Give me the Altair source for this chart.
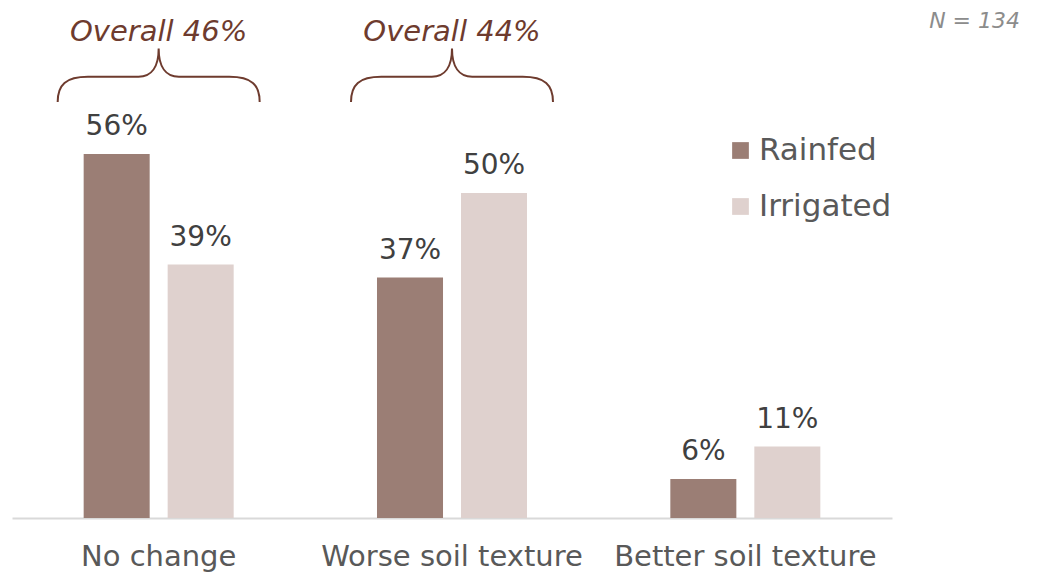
import altair as alt
import pandas as pd

categories = ["No change", "Worse soil texture", "Better soil texture"]
series = ["Rainfed", "Irrigated"]
rainfed = [56, 37, 6]
irrigated = [39, 50, 11]
overall_cats = ["No change", "Worse soil texture"]
overall_vals = [46, 44]
n_label = "N = 134"

FONT = "DejaVu Sans"
rows = []
for i, c in enumerate(categories):
    rows.append({"cat": c, "series": "Rainfed", "value": rainfed[i]})
    rows.append({"cat": c, "series": "Irrigated", "value": irrigated[i]})
df = pd.DataFrame(rows)
df["label"] = df["value"].astype(str) + "%"

ov = pd.DataFrame({"cat": overall_cats, "value": overall_vals})
ov["label"] = "Overall " + ov["value"].astype(str) + "%"
ov["brace_y"] = 68.2
ov["text_y"] = 74.8

xscale = alt.Scale(domain=categories, paddingInner=0.4886, paddingOuter=0.2443)
yscale = alt.Scale(domain=[0, 78], nice=False, zero=True)
x = alt.X("cat:N", scale=xscale, sort=categories,
          axis=alt.Axis(title=None, ticks=False, domainColor="#d9d9d9", domainWidth=2,
                        labelFontSize=29, labelColor="#595959", labelFont=FONT,
                        labelPadding=24, labelAngle=0, labelOverlap=False, labelLimit=0))
xoff = alt.XOffset("series:N", sort=series,
                   scale=alt.Scale(domain=series, paddingInner=0.214, paddingOuter=0))
y = alt.Y("value:Q", scale=yscale, axis=None)

bars = alt.Chart(df).mark_bar().encode(
    x=x, xOffset=xoff, y=y,
    color=alt.Color("series:N", sort=series,
                    scale=alt.Scale(domain=series, range=["#9b7e75", "#dfd1ce"]),
                    legend=alt.Legend(title=None, orient="none", legendX=713, legendY=124,
                                      symbolType="square", symbolSize=280, symbolStrokeWidth=0,
                                      labelFontSize=31, labelFont=FONT, labelColor="#595959",
                                      rowPadding=24, labelOffset=3, padding=0)),
)

labels = alt.Chart(df).mark_text(fontSize=28, font=FONT, color="#404040",
                                 baseline="alphabetic", dy=-19).encode(
    x=x, xOffset=xoff, y=y, text="label:N")

brace_path = ("M -1 0.27 C -1 0.1 -0.92 0.02 -0.7 0.02 L -0.2 0.02 "
              "C -0.07 0.02 0 -0.08 0 -0.26 C 0 -0.08 0.07 0.02 0.2 0.02 "
              "L 0.7 0.02 C 0.92 0.02 1 0.1 1 0.27")
braces = alt.Chart(ov).mark_point(shape=brace_path, size=202 * 202, filled=False,
                                  stroke="#6e3b2e", strokeWidth=2, opacity=1).encode(
    x=x, y=alt.Y("brace_y:Q", scale=yscale, axis=None))

ov_text = alt.Chart(ov).mark_text(fontSize=29, font=FONT, fontStyle="italic",
                                  color="#6e3b2e", baseline="middle").encode(
    x=x, y=alt.Y("text_y:Q", scale=yscale, axis=None), text="label:N")

ntext = alt.Chart(pd.DataFrame({"t": [n_label]})).mark_text(
    fontSize=22, font=FONT, fontStyle="italic", color="#8c8c8c",
    align="right", baseline="middle").encode(
    x=alt.value(1008), y=alt.value(10), text="t:N")

chart = alt.layer(bars, labels, braces, ov_text, ntext).properties(
    width=880, height=507,
    autosize=alt.AutoSizeParams(type="none"),
    padding={"left": 4, "top": 3, "right": 137, "bottom": 60},
).configure_view(stroke=None)

chart.save("out.html", embed_options={"renderer": "svg", "actions": False})
